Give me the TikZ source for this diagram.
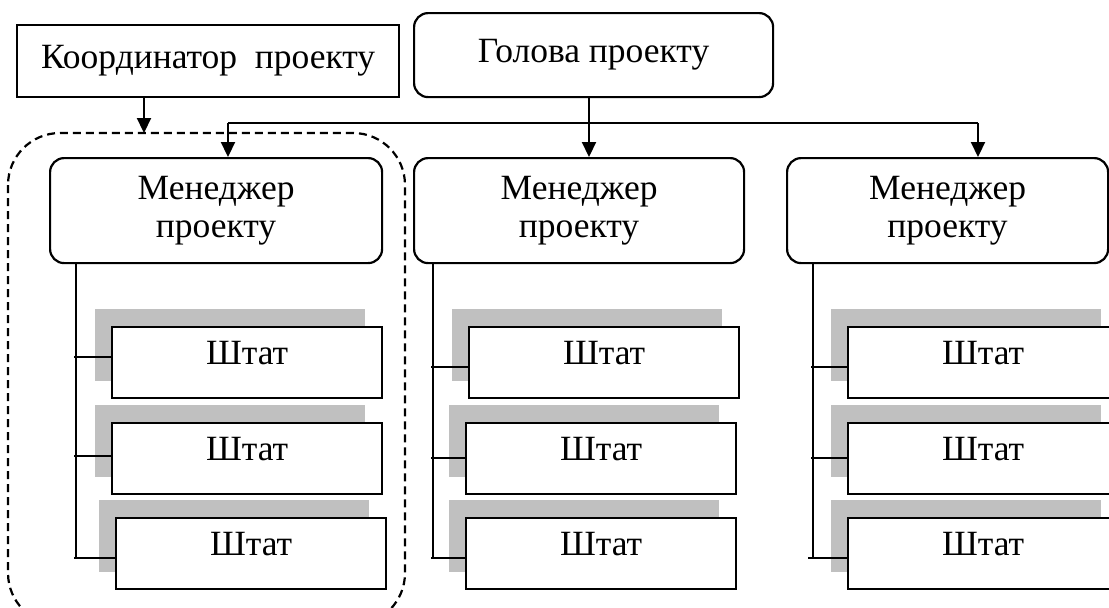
\documentclass[tikz,border=0pt]{standalone}
\usepackage{fontspec}
\setmainfont{Liberation Serif}
\usetikzlibrary{arrows.meta}
\definecolor{shade}{HTML}{C0C0C0}
\tikzset{
  ln/.style={line width=2.2pt},
  arr/.style={ln,-{Triangle[length=15pt,width=14pt]}},
  plainbox/.style={draw,ln,fill=white,inner sep=0pt,anchor=north west,font=\fontsize{35.5}{38}\selectfont},
  roundbox/.style={plainbox,rounded corners=14pt,align=center},
  staff/.style={plainbox,minimum width=270pt,minimum height=71pt,text height=0.7em,text depth=0.25em},
  shadowbox/.style={fill=shade,draw=none,minimum width=270pt,minimum height=72pt,inner sep=0pt,anchor=north west},
  group/.style={ln,dashed,dash pattern=on 8pt off 5pt,rounded corners=52pt}
}
\begin{document}
\begin{tikzpicture}[x=1pt,y=-1pt]
\useasboundingbox (0,0) rectangle (1109,608);
\clip (0,0) rectangle (1109,608);
% dashed group
\draw[group] (8,133) rectangle (405,625);
% top nodes
\node[plainbox,minimum width=382pt,minimum height=72pt] (coord) at (16,24) {Координатор~ проекту};
\node[roundbox,minimum width=359pt,minimum height=84pt] (head) at (413,12) {Голова проекту};
% managers
\node[roundbox,minimum width=332pt,minimum height=105pt] (m1) at (49,157) {Менеджер\\проекту};
\node[roundbox,minimum width=330pt,minimum height=105pt] (m2) at (413,157) {Менеджер\\проекту};
\node[roundbox,minimum width=321pt,minimum height=105pt] (m3) at (786,157) {Менеджер\\проекту};
% shadows and staff boxes
\foreach \c/\x/\y in {1a/111/326,1b/111/422,1c/115/517,2a/468/326,2b/465/422,2c/465/517,3a/847/326,3b/847/422,3c/847/517}{
  \node[shadowbox] (sh\c) at (\x-16,\y-17) {};
  \node[staff,minimum width=270pt] (s\c) at (\x,\y) {Штат};
}
% coordinator arrow
\coordinate (cpt) at (144,133);
\draw[arr] (coord.south -| cpt) -- (cpt);
% head connectors
\coordinate (bus) at (0,123);
\draw[arr] (head.south -| 589,0) -- (m2.north -| 589,0);
\draw[ln] (bus -| 228,0) -- (bus -| 978,0);
\draw[arr] (bus -| 228,0) -- (m1.north -| 228,0);
\draw[arr] (bus -| 978,0) -- (m3.north -| 978,0);
% manager trees
\draw[ln] (m1.south -| 76,0) -- (76,558);
\draw[ln] (74,357) -- (s1a.west |- 0,357);
\draw[ln] (74,456) -- (s1b.west |- 0,456);
\draw[ln] (74,558) -- (s1c.west |- 0,558);
\draw[ln] (m2.south -| 433,0) -- (433,558);
\draw[ln] (431,367) -- (s2a.west |- 0,367);
\draw[ln] (431,458) -- (s2b.west |- 0,458);
\draw[ln] (431,558) -- (s2c.west |- 0,558);
\draw[ln] (m3.south -| 813,0) -- (813,558);
\draw[ln] (811,367) -- (s3a.west |- 0,367);
\draw[ln] (811,458) -- (s3b.west |- 0,458);
\draw[ln] (808,558) -- (s3c.west |- 0,558);
\end{tikzpicture}
\end{document}
